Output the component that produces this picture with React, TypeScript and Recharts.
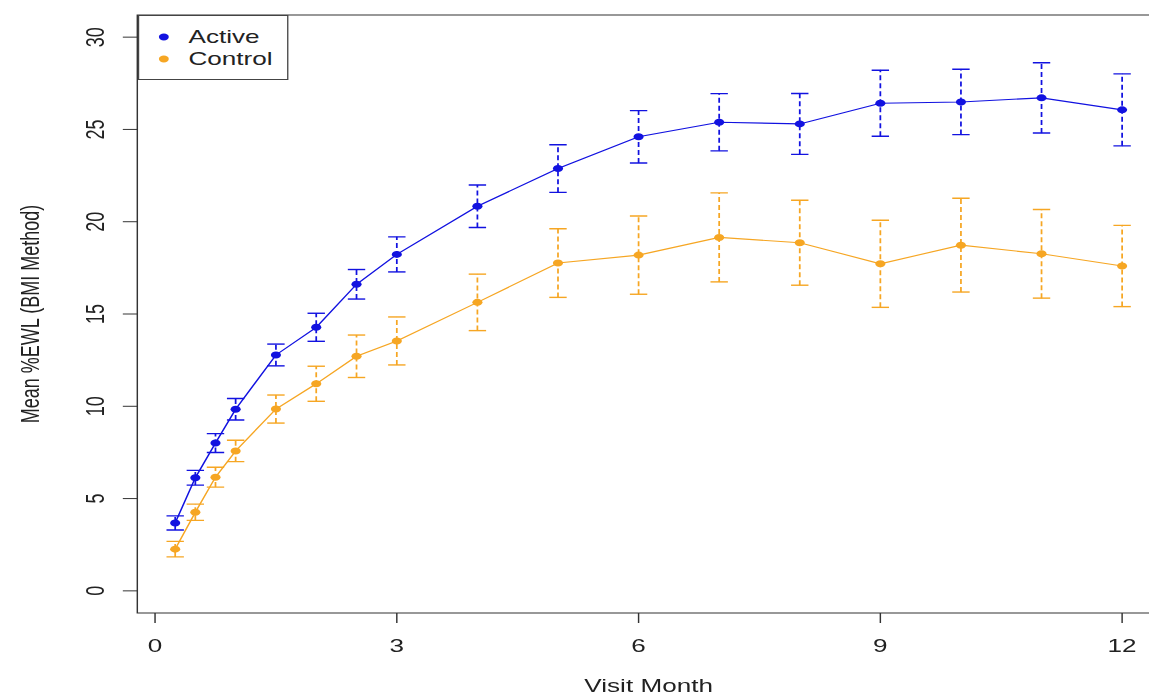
import React from 'react';
import { LineChart, Line, XAxis, YAxis, ErrorBar, ReferenceArea, Legend } from 'recharts';

// ---- data ----
const months = [0.25, 0.5, 0.75, 1, 1.5, 2, 2.5, 3, 4, 5, 6, 7, 8, 9, 10, 11, 12];
const activeMean = [3.68, 6.13, 8.01, 9.84, 12.78, 14.28, 16.61, 18.23, 20.84, 22.88, 24.6, 25.39, 25.3, 26.42, 26.49, 26.71, 26.06];
const activeErr = [0.38, 0.4, 0.51, 0.58, 0.59, 0.76, 0.8, 0.95, 1.15, 1.29, 1.42, 1.55, 1.65, 1.79, 1.77, 1.9, 1.95];
const controlMean = [2.26, 4.26, 6.16, 7.58, 9.85, 11.22, 12.71, 13.54, 15.63, 17.76, 18.19, 19.15, 18.86, 17.72, 18.73, 18.26, 17.6];
const controlErr = [0.42, 0.44, 0.54, 0.58, 0.76, 0.95, 1.15, 1.3, 1.53, 1.86, 2.12, 2.41, 2.3, 2.36, 2.54, 2.4, 2.2];
const xTicks = [0, 3, 6, 9, 12];
const yTicks = [0, 5, 10, 15, 20, 25, 30];
const seriesNames = ['Active', 'Control'];
const xTitle = 'Visit Month';
const yTitle = 'Mean %EWL (BMI Method)';

// ---- styling ----
const FONT = '"Liberation Sans", Arial, Helvetica, sans-serif';
const FS = 18;
const BLUE = '#1212E0';
const ORANGE = '#F6A623';
const STRETCH = 1.45;
const W = 800;
const H = 697;
const X_DOMAIN: [number, number] = [-0.22, 12.47];
const Y_DOMAIN: [number, number] = [-1.2, 31.2];

const data = months.map((m, i) => ({
  month: m,
  active: activeMean[i],
  activeErr: activeErr[i],
  activeHi: activeMean[i] + activeErr[i],
  activeLo: activeMean[i] - activeErr[i],
  control: controlMean[i],
  controlErr: controlErr[i],
  controlHi: controlMean[i] + controlErr[i],
  controlLo: controlMean[i] - controlErr[i],
}));

const makeCap = (color: string) => (props: any) => {
  const { cx, cy, index } = props;
  if (cx == null || cy == null || isNaN(cx) || isNaN(cy)) return <g key={`cap-${index}`} />;
  return (
    <line key={`cap-${index}`} x1={cx - 6} x2={cx + 6} y1={cy} y2={cy} stroke={color} strokeWidth={1.4} />
  );
};

const XTick = (props: any) => {
  const { x, y, payload } = props;
  return (
    <text x={x} y={y + 29.5} textAnchor="middle" fontFamily={FONT} fontSize={FS} fill="#222">
      {payload.value}
    </text>
  );
};

const YTick = (props: any) => {
  const { x, y, payload } = props;
  const bx = x - 12.7;
  return (
    <text x={bx} y={y} transform={`rotate(-90, ${bx}, ${y})`} textAnchor="middle" fontFamily={FONT} fontSize={FS} fill="#222">
      {payload.value}
    </text>
  );
};

const XTitle = (props: any) => {
  const vb = props.viewBox || {};
  return (
    <text x={vb.x + vb.width / 2} y={vb.y + 79.5} textAnchor="middle" fontFamily={FONT} fontSize={FS} fill="#222">
      {xTitle}
    </text>
  );
};

const YTitle = (props: any) => {
  const vb = props.viewBox || {};
  const cx = 27.2;
  const cy = vb.y + vb.height / 2;
  return (
    <text x={cx} y={cy} transform={`rotate(-90, ${cx}, ${cy})`} textAnchor="middle" fontFamily={FONT} fontSize={FS} fill="#222">
      {yTitle}
    </text>
  );
};

const LegendBox = (props: any) => {
  const payload = (props.payload || []).filter((p: any) => p.type !== 'none');
  return (
    <svg width={104} height={65} style={{ display: 'block' }}>
      <rect x={0.5} y={0.5} width={103} height={64} fill="#fff" stroke="#444" strokeWidth={1} />
      {payload.map((p: any, i: number) => (
        <g key={`lg-${i}`}>
          <circle cx={18} cy={22 + i * 22} r={3.4} fill={p.color} />
          <text x={35} y={28.5 + i * 22} fontFamily={FONT} fontSize={FS} fill="#222">
            {p.value}
          </text>
        </g>
      ))}
    </svg>
  );
};

export default function App() {
  return (
    <div style={{ position: 'absolute', left: 0, top: 0, width: 1149, height: 697, overflow: 'hidden', background: '#fff' }}>
      <div style={{ width: W, height: H, transform: `scaleX(${STRETCH})`, transformOrigin: '0 0' }}>
        <LineChart width={W} height={H} data={data} margin={{ top: 15, right: 0, bottom: 0, left: 0 }}>
          <ReferenceArea
            x1={X_DOMAIN[0]}
            x2={X_DOMAIN[1]}
            y1={Y_DOMAIN[0]}
            y2={Y_DOMAIN[1]}
            fill="none"
            fillOpacity={0}
            stroke="#333"
            strokeWidth={1}
            ifOverflow="visible"
          />
          <XAxis
            dataKey="month"
            type="number"
            domain={X_DOMAIN}
            ticks={xTicks}
            interval={0}
            allowDataOverflow
            axisLine={false}
            tickLine={{ stroke: '#333' }}
            tickSize={10}
            tickMargin={0}
            tick={XTick}
            height={84}
            label={XTitle}
          />
          <YAxis
            type="number"
            domain={Y_DOMAIN}
            ticks={yTicks}
            interval={0}
            allowDataOverflow
            axisLine={false}
            tickLine={{ stroke: '#333' }}
            tickSize={10}
            tickMargin={0}
            tick={YTick}
            width={94.7}
            label={YTitle}
          />
          <Legend
            layout="vertical"
            align="center"
            verticalAlign="middle"
            wrapperStyle={{ left: 94.5, top: 15, width: 104, height: 65 }}
            content={LegendBox}
          />
          <Line
            dataKey="control"
            name={seriesNames[1]}
            stroke={ORANGE}
            strokeWidth={1.1}
            dot={{ r: 3.5, fill: ORANGE, stroke: 'none' }}
            activeDot={false}
            isAnimationActive={false}
          >
            <ErrorBar dataKey="controlErr" width={0} stroke={ORANGE} strokeWidth={1.2} strokeDasharray="5 3" direction="y" />
          </Line>
          <Line
            dataKey="active"
            name={seriesNames[0]}
            stroke={BLUE}
            strokeWidth={1.1}
            dot={{ r: 3.5, fill: BLUE, stroke: 'none' }}
            activeDot={false}
            isAnimationActive={false}
          >
            <ErrorBar dataKey="activeErr" width={0} stroke={BLUE} strokeWidth={1.2} strokeDasharray="5 3" direction="y" />
          </Line>
          <Line dataKey="activeHi" stroke="none" dot={makeCap(BLUE)} activeDot={false} legendType="none" isAnimationActive={false} />
          <Line dataKey="activeLo" stroke="none" dot={makeCap(BLUE)} activeDot={false} legendType="none" isAnimationActive={false} />
          <Line dataKey="controlHi" stroke="none" dot={makeCap(ORANGE)} activeDot={false} legendType="none" isAnimationActive={false} />
          <Line dataKey="controlLo" stroke="none" dot={makeCap(ORANGE)} activeDot={false} legendType="none" isAnimationActive={false} />
        </LineChart>
      </div>
    </div>
  );
}
